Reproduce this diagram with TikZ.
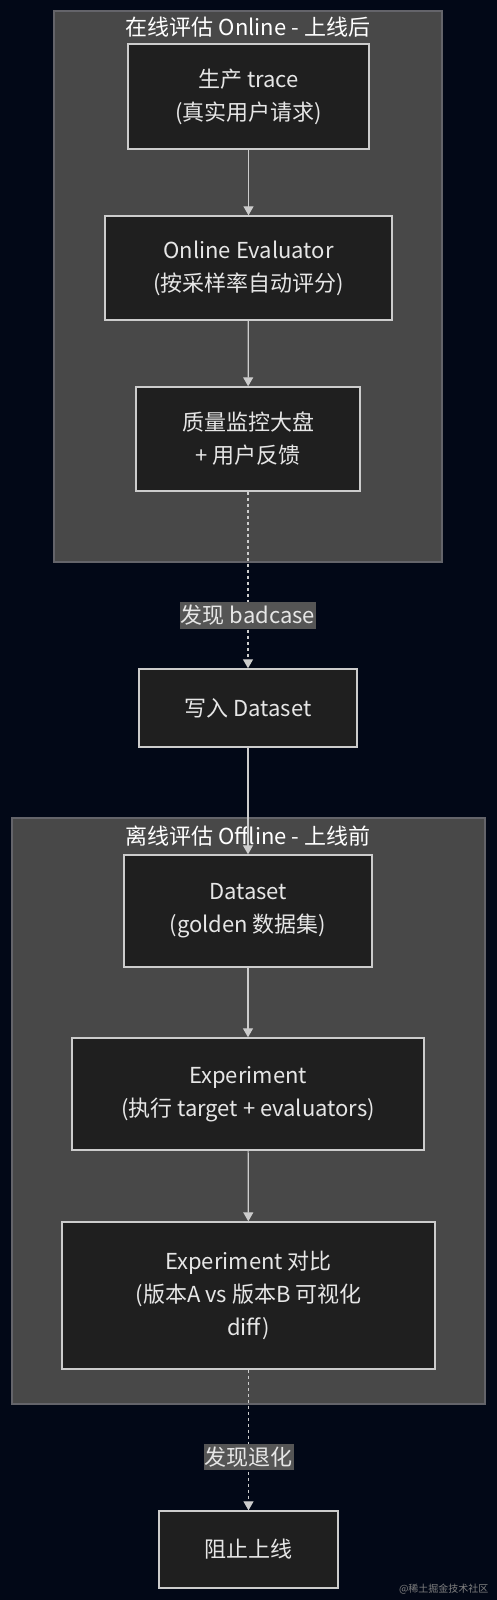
\documentclass[tikz,border=0pt]{standalone}
\usepackage{fontspec}
\setmainfont{Noto Sans CJK SC}
\usetikzlibrary{arrows.meta}
\definecolor{bgnavy}{RGB}{2,8,23}
\definecolor{clfill}{RGB}{72,72,72}
\definecolor{cldraw}{RGB}{100,100,106}
\definecolor{boxfill}{RGB}{31,31,31}
\definecolor{boxdraw}{RGB}{204,204,204}
\definecolor{txtgray}{RGB}{230,230,230}
\definecolor{lblfill}{RGB}{85,85,85}
\begin{document}
\begin{tikzpicture}[x=1pt,y=-1pt,
    cluster/.style={fill=clfill,draw=cldraw,line width=1.2pt},
    cltitle/.style={text=white,font=\fontsize{22}{26}\selectfont},
    box/.style={draw=boxdraw,fill=boxfill,line width=1.4pt,text=txtgray,
      align=center,font=\fontsize{22}{33}\selectfont,inner sep=0pt},
    edge/.style={draw=boxdraw,line width=1.2pt,-{Triangle[width=10pt,length=9pt]}},
    dotedge/.style={edge,dash pattern=on 3pt off 3pt},
    lbl/.style={fill=lblfill,text=txtgray,font=\fontsize{22}{26}\selectfont,
      inner xsep=1pt,inner ysep=3pt,solid}]
  \fill[bgnavy] (0,0) rectangle (497,1600);
  \useasboundingbox (0,0) rectangle (497,1600);
  % clusters
  \draw[cluster] (54,11) rectangle (442,562);
  \node[cltitle] (T-on) at (248,27) {在线评估 Online - 上线后};
  \draw[cluster] (12,818) rectangle (485,1404);
  \node[cltitle] (T-off) at (248,836) {离线评估 Offline - 上线前};
  % nodes
  \node[box,minimum width=241pt,minimum height=105pt] (N-1) at (248.5,96.5) {生产 trace\\(真实用户请求)};
  \node[box,minimum width=287pt,minimum height=104pt] (N-2) at (248.5,268) {Online Evaluator\\(按采样率自动评分)};
  \node[box,minimum width=224pt,minimum height=104pt] (N-3) at (248,439) {质量监控大盘\\+ 用户反馈};
  \node[box,minimum width=218pt,minimum height=78pt] (N-4) at (248,708) {写入 Dataset};
  \node[box,minimum width=248pt,minimum height=112pt] (N-5) at (248,911) {Dataset\\(golden 数据集)};
  \node[box,minimum width=352pt,minimum height=112pt] (N-6) at (248,1094) {Experiment\\(执行 target + evaluators)};
  \node[box,minimum width=373pt,minimum height=147pt] (N-7) at (248.5,1295.5) {Experiment 对比\\(版本A vs 版本B 可视化\\diff)};
  \node[box,minimum width=179pt,minimum height=77pt] (N-8) at (248.5,1549.5) {阻止上线};
  % edges
  \foreach \a/\b in {1/2,2/3,4/5,5/6,6/7}{%
    \draw[edge] (N-\a) -- (N-\b);
  }
  \draw[dotedge] (N-3) -- node[lbl,pos=0.7] {发现 badcase} (N-4);
  \draw[dotedge] (N-7) -- node[lbl,pos=0.62] {发现退化} (N-8);
  \node[text=gray,font=\fontsize{10}{12}\selectfont,anchor=east] (W-m) at (492,1589) {@稀土掘金技术社区};
\end{tikzpicture}
\end{document}
